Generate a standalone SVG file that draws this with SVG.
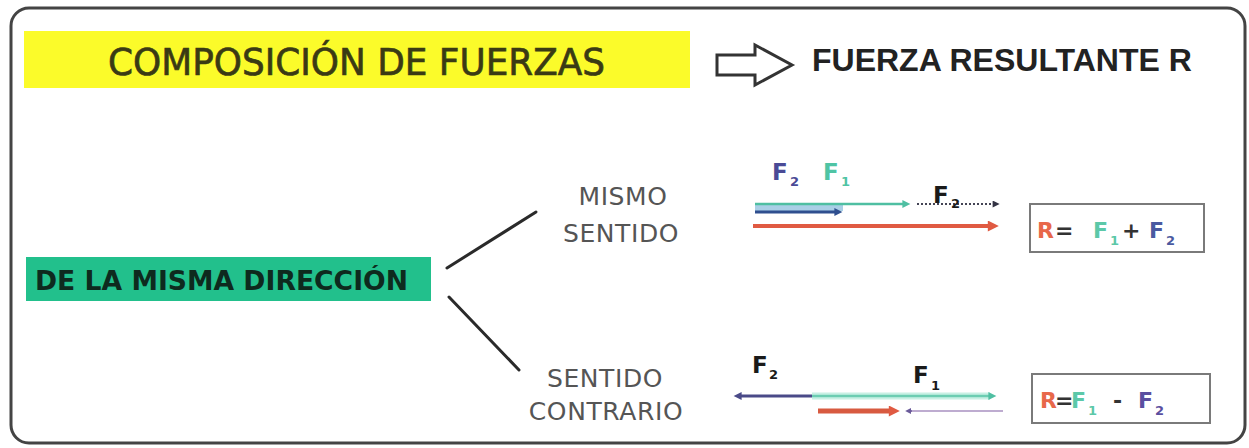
<svg xmlns="http://www.w3.org/2000/svg" width="1249" height="448" viewBox="0 0 1249 448">
<defs>
<style>
.lbl{font-family:"DejaVu Sans",Verdana,sans-serif;fill:#555;font-size:25px;letter-spacing:0.6px;text-anchor:middle}
.f{font-family:"DejaVu Sans","Liberation Sans",sans-serif;font-weight:bold}
.box{fill:#fff;stroke:#7a7a7a;stroke-width:2}
.conn{stroke:#2a2a2a;stroke-width:3;stroke-linecap:round;fill:none}
</style>
<marker id="hTeal" viewBox="0 0 10 10" refX="2" refY="5" markerWidth="10" markerHeight="8" markerUnits="userSpaceOnUse" orient="auto"><path d="M0,0 L10,5 L0,10 z" fill="#4fbfa2"/></marker>
<marker id="hBlue" viewBox="0 0 10 10" refX="2" refY="5" markerWidth="10" markerHeight="8" markerUnits="userSpaceOnUse" orient="auto"><path d="M0,0 L10,5 L0,10 z" fill="#2f4f8f"/></marker>
<marker id="hDark" viewBox="0 0 10 10" refX="2" refY="5" markerWidth="9" markerHeight="7" markerUnits="userSpaceOnUse" orient="auto"><path d="M0,0 L10,5 L0,10 z" fill="#334"/></marker>
<marker id="hRed" viewBox="0 0 10 10" refX="2" refY="5" markerWidth="13" markerHeight="11" markerUnits="userSpaceOnUse" orient="auto"><path d="M0,0 L10,5 L0,10 z" fill="#e05a42"/></marker>
<marker id="hPurple" viewBox="0 0 10 10" refX="2" refY="5" markerWidth="10" markerHeight="8" markerUnits="userSpaceOnUse" orient="auto"><path d="M0,0 L10,5 L0,10 z" fill="#4a4a88"/></marker>
<marker id="hLilac" viewBox="0 0 10 10" refX="2" refY="5" markerWidth="6" markerHeight="6" markerUnits="userSpaceOnUse" orient="auto"><path d="M0,0 L10,5 L0,10 z" fill="#6a5a9a"/></marker>
</defs>
<rect x="0" y="0" width="1249" height="448" fill="#fff"/>
<rect x="11" y="8" width="1234" height="435" rx="18" fill="#fff" stroke="#444" stroke-width="3"/>

<g id="title">
<rect x="24" y="31" width="666" height="57" fill="#fbfb2a"/>
<text x="108" y="75" font-family="DejaVu Sans,Verdana,sans-serif" font-size="38" fill="#3a3a14" stroke="#3a3a14" stroke-width="0.7" textLength="497" lengthAdjust="spacingAndGlyphs">COMPOSICIÓN DE FUERZAS</text>
</g>

<g id="result-arrow">
<path d="M717,55 L755,55 L755,45 L792,65 L755,85 L755,75 L717,75 Z" fill="#fff" stroke="#333" stroke-width="3" stroke-linejoin="miter"/>
</g>

<g id="result-title">
<text x="812" y="71" font-family="Liberation Sans,Arial,sans-serif" font-weight="bold" font-size="32" fill="#222">FUERZA RESULTANTE R</text>
</g>

<g id="direction">
<rect x="26" y="257" width="405" height="44" fill="#22c08c"/>
<text x="35" y="290" font-family="DejaVu Sans,Verdana,sans-serif" font-weight="bold" font-size="26.5" fill="#0e2a1e" textLength="373" lengthAdjust="spacingAndGlyphs">DE LA MISMA DIRECCIÓN</text>
</g>

<g id="connectors">
<line class="conn" x1="447" y1="268" x2="536" y2="212"/>
<line class="conn" x1="449" y1="297" x2="519" y2="370"/>
</g>

<g id="same-sense">
<text class="lbl" x="623" y="205">MISMO</text>
<text class="lbl" x="621" y="242">SENTIDO</text>
</g>

<g id="opposite-sense">
<text class="lbl" x="605" y="387">SENTIDO</text>
<text class="lbl" x="606" y="420">CONTRARIO</text>
</g>

<g id="same-vectors">
<text class="f" x="772" y="180" font-size="23" fill="#4a4a96">F</text>
<text class="f" x="790" y="186" font-size="13" fill="#4a4a96">2</text>
<text class="f" x="823" y="180" font-size="23" fill="#4fc4a4">F</text>
<text class="f" x="841" y="186" font-size="13" fill="#4fc4a4">1</text>
<rect x="755" y="205" width="88" height="6" fill="#a9cfe6"/>
<line x1="755" y1="204" x2="904" y2="204" stroke="#4fbfa2" stroke-width="2.5" marker-end="url(#hTeal)"/>
<line x1="755" y1="212" x2="836" y2="212" stroke="#2f4f8f" stroke-width="3" marker-end="url(#hBlue)"/>
<line x1="917" y1="204" x2="994" y2="204" stroke="#445" stroke-width="2" stroke-dasharray="2 2" marker-end="url(#hDark)"/>
<text class="f" x="933" y="203" font-size="23" fill="#1a1a1a">F</text>
<text class="f" x="951" y="208" font-size="13" fill="#1a1a1a">2</text>
<line x1="753" y1="226" x2="990" y2="226" stroke="#e05a42" stroke-width="4" marker-end="url(#hRed)"/>
</g>

<g id="sum-box">
<rect class="box" x="1030" y="204" width="174" height="48"/>
<text class="f" y="238" font-size="22"><tspan x="1037" fill="#e8684a">R</tspan><tspan x="1055" fill="#333">=</tspan><tspan x="1093" fill="#5cc8a8">F</tspan></text>
<text class="f" x="1110" y="245" font-size="13" fill="#5cc8a8">1</text>
<text class="f" x="1122" y="238" font-size="22" fill="#333">+</text>
<text class="f" x="1149" y="238" font-size="22" fill="#4a5aa0">F</text>
<text class="f" x="1166" y="245" font-size="13" fill="#4a5aa0">2</text>
</g>

<g id="opposite-vectors">
<text class="f" x="752" y="373" font-size="23" fill="#1a1a1a">F</text>
<text class="f" x="769" y="379" font-size="13" fill="#1a1a1a">2</text>
<text class="f" x="913" y="383" font-size="23" fill="#1a1a1a">F</text>
<text class="f" x="931" y="390" font-size="13" fill="#1a1a1a">1</text>
<line x1="812" y1="396" x2="990" y2="396" stroke="#c8f0e4" stroke-width="7"/>
<line x1="812" y1="396" x2="990" y2="396" stroke="#6ccdb2" stroke-width="2.5" marker-end="url(#hTeal)"/>
<line x1="812" y1="396" x2="740" y2="396" stroke="#4a4a88" stroke-width="3" marker-end="url(#hPurple)"/>
<line x1="908" y1="411" x2="1003" y2="411" stroke="#a890c0" stroke-width="1.5"/>
<line x1="912" y1="411" x2="910" y2="411" stroke="#6a5a9a" stroke-width="1.5" marker-end="url(#hLilac)"/>
<line x1="818" y1="411" x2="891" y2="411" stroke="#d85a40" stroke-width="5" marker-end="url(#hRed)"/>
</g>

<g id="difference-box">
<rect class="box" x="1032" y="374" width="178" height="49"/>
<text class="f" y="408" font-size="22"><tspan x="1040" fill="#e8684a">R</tspan><tspan x="1055" fill="#333">=</tspan><tspan x="1071" fill="#5cc8a8">F</tspan></text>
<text class="f" x="1088" y="415" font-size="13" fill="#5cc8a8">1</text>
<text class="f" x="1113" y="408" font-size="22" fill="#333">-</text>
<text class="f" x="1138" y="408" font-size="22" fill="#5a4fa0">F</text>
<text class="f" x="1155" y="415" font-size="13" fill="#5a4fa0">2</text>
</g>
</svg>
